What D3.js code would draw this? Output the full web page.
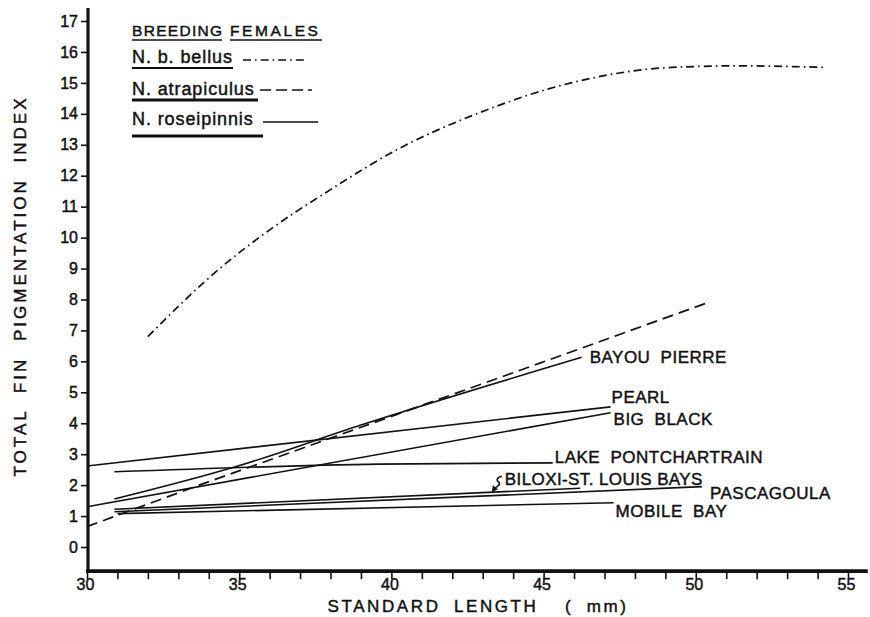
<!DOCTYPE html>
<html><head><meta charset="utf-8">
<script src="https://cdn.jsdelivr.net/npm/d3@7"></script>
<style>
body{margin:0;background:#fff}
text{font-family:"Liberation Sans",Arial,sans-serif;fill:#111;stroke:#111;stroke-width:0.45px}
</style>
</head><body><svg id="c" width="870" height="617"></svg>
<script>
// ---- data ----
const xMajorTicks = [30, 35, 40, 45, 50, 55];
const xMinorTicks = d3.range(30, 56, 1);
const yTicks = [0,1,2,3,4,5,6,7,8,9,10,11,12,13,14,15,16,17];

const bellus = [[32,6.8],[34.3,8.95],[36,10.25],[38,11.55],[40.2,12.85],[42.8,14.0],[45.9,15.0],[49.2,15.5],[51.4,15.55],[54.3,15.5]];
const atrapiculus = [[30,0.66],[33.8,2.04],[39,3.87],[44.9,5.95],[50.4,7.9]];

const siteNames = ["BAYOU PIERRE","PEARL","BIG BLACK","LAKE PONTCHARTRAIN","BILOXI-ST. LOUIS BAYS","PASCAGOULA","MOBILE BAY"];
const bayouPierre = [[30.9,1.55],[34.9,2.6],[39,3.94],[46.25,6.13]];
const pearl = [[30,2.62],[47.2,4.53]];
const bigBlack = [[30,1.3],[47.2,4.34]];
const lakePontchartrain = [[30.9,2.43],[39.6,2.68],[45.3,2.72]];
const biloxi = [[30.9,1.22],[46.2,1.9]];
const pascagoula = [[30.9,1.14],[50.2,1.95]];
const mobileBay = [[31,1.08],[47.3,1.43]];
const roseipinnis = [bayouPierre, pearl, bigBlack, lakePontchartrain, biloxi, pascagoula, mobileBay];

const legendTitle = ["BREEDING", "FEMALES"];
const legendNames = ["N. b. bellus", "N. atrapiculus", "N. roseipinnis"];
const xTitle = "STANDARD LENGTH  ( mm)";
const yTitle = "TOTAL FIN PIGMENTATION INDEX";

// ---- scales ----
const svg = d3.select("#c");
const x = d3.scaleLinear().domain([30, 55]).range([87, 848]);
const y = d3.scaleLinear().domain([0, 17]).range([547, 21]);
const axisY = y(-0.78);

// ---- axes ----
const gy = svg.append("g").attr("transform", `translate(${x(30)+1},0)`)
  .call(d3.axisLeft(y).tickValues(yTicks).tickSize(7).tickPadding(3).tickFormat(d3.format("d")));
gy.select(".domain").remove();
gy.selectAll(".tick line").attr("stroke", "#111").attr("stroke-width", 1.6);
gy.selectAll(".tick text").attr("font-size", 16).attr("font-family", '"Liberation Sans",Arial,sans-serif').attr("fill","#111");

const gx = svg.append("g").attr("transform", `translate(0,${axisY})`)
  .call(d3.axisBottom(x).tickValues(xMinorTicks).tickSize(8).tickPadding(0)
    .tickFormat(d => xMajorTicks.includes(d) ? d : ""));
gx.select(".domain").remove();
gx.selectAll(".tick line").attr("stroke", "#111").attr("stroke-width", 1.6);
gx.selectAll(".tick text").attr("font-size", 16).attr("font-family", '"Liberation Sans",Arial,sans-serif').attr("fill","#111").attr("dx", -2);

// axis lines
svg.append("line").attr("x1", x(30)+1).attr("x2", x(30)+1).attr("y1", y(17.42)).attr("y2", axisY+1)
  .attr("stroke", "#111").attr("stroke-width", 3.2);
svg.append("line").attr("x1", x(30)-1).attr("x2", x(55.65)).attr("y1", axisY).attr("y2", axisY)
  .attr("stroke", "#111").attr("stroke-width", 3.6);

// axis titles
svg.append("text").attr("x", 478).attr("y", 612).attr("text-anchor", "middle")
  .attr("font-size", 17).attr("letter-spacing", 2.6).attr("word-spacing", 6)
  .style("white-space","pre").text(xTitle);
svg.append("text").attr("transform", `translate(26,${286}) rotate(-90)`).attr("text-anchor", "middle")
  .attr("font-size", 17).attr("letter-spacing", 3).attr("word-spacing", 8).text(yTitle);

// ---- lines ----
const line = d3.line().x(d => x(d[0])).y(d => y(d[1]));
svg.append("path").datum(bellus)
  .attr("d", line.curve(d3.curveMonotoneX)(bellus))
  .attr("fill", "none").attr("stroke", "#111").attr("stroke-width", 1.7)
  .attr("stroke-dasharray", "8,4,1.6,4");
const straight = d3.line().x(d => x(d[0])).y(d => y(d[1])).curve(d3.curveLinear);
svg.append("path").attr("d", straight(atrapiculus))
  .attr("fill", "none").attr("stroke", "#111").attr("stroke-width", 1.7)
  .attr("stroke-dasharray", "11,6");
const smooth = d3.line().x(d => x(d[0])).y(d => y(d[1])).curve(d3.curveMonotoneX);
roseipinnis.forEach(s => {
  svg.append("path").attr("d", smooth(s)).attr("fill", "none")
    .attr("stroke", "#111").attr("stroke-width", 1.6);
});

// ---- site labels (offsets from line ends, in px) ----
const offsets = [[8,6],[1,-3.5],[3,12],[2,0],[null,null],[8,12],[2,14]];
roseipinnis.forEach((s, i) => {
  if (i === 4) return;
  const e = s[s.length-1];
  svg.append("text").attr("x", x(e[0]) + offsets[i][0]).attr("y", y(e[1]) + offsets[i][1])
    .attr("font-size", 17).attr("letter-spacing", 0.5).attr("word-spacing", 5).text(siteNames[i]);
});
// Biloxi label with arrow pointing to its line
const bx = 43.3;
const b0 = biloxi[0], b1 = biloxi[1];
const byv = b0[1] + (b1[1]-b0[1])*(bx-b0[0])/(b1[0]-b0[0]);
const tx = x(bx), ty = y(byv);
svg.append("text").attr("x", tx + 13).attr("y", ty - 7.5)
  .attr("font-size", 17).attr("letter-spacing", 0.4).text(siteNames[4]);
svg.append("path")
  .attr("d", `M${tx+10},${ty-16} C${tx+5},${ty-15} ${tx+4},${ty-12} ${tx+7},${ty-10} C${tx+9},${ty-8} ${tx+6},${ty-6} ${tx+3},${ty-4}`)
  .attr("fill", "none").attr("stroke", "#111").attr("stroke-width", 1.6);
svg.append("path")
  .attr("d", `M${tx},${ty} L${tx+1},${ty-7} L${tx+6},${ty-3} Z`).attr("fill", "#111");

// ---- legend ----
const lg = svg.append("g");
lg.append("text").attr("x", 132).attr("y", 36).attr("font-size", 15.5).attr("letter-spacing", 1.3).text(legendTitle[0]);
lg.append("text").attr("x", 230).attr("y", 36).attr("font-size", 15.5).attr("letter-spacing", 2.6).text(legendTitle[1]);
lg.append("line").attr("x1",132).attr("x2",222).attr("y1",40).attr("y2",40).attr("stroke","#111").attr("stroke-width",1.6);
lg.append("line").attr("x1",230).attr("x2",322).attr("y1",40).attr("y2",40).attr("stroke","#111").attr("stroke-width",1.6);

const legRows = [
  {base:63, ul:68, ulEnd:233, sx1:243, sx2:306, sy:60, dash:"8,4,1.6,4"},
  {base:95, ul:100, ulEnd:258, sx1:260, sx2:312, sy:90, dash:"11,5"},
  {base:125, ul:136, ulEnd:263, sx1:263, sx2:318, sy:122, dash:null}
];
legRows.forEach((r, i) => {
  lg.append("text").attr("x", 132).attr("y", r.base).attr("font-size", 18).attr("letter-spacing", 0.9).text(legendNames[i]);
  lg.append("line").attr("x1",132).attr("x2",r.ulEnd).attr("y1",r.ul).attr("y2",r.ul).attr("stroke","#111").attr("stroke-width", i===0?2:3);
  const ln = lg.append("line").attr("x1",r.sx1).attr("x2",r.sx2).attr("y1",r.sy).attr("y2",r.sy).attr("stroke","#111").attr("stroke-width",1.7);
  if (r.dash) ln.attr("stroke-dasharray", r.dash);
});
</script>
</body></html>
